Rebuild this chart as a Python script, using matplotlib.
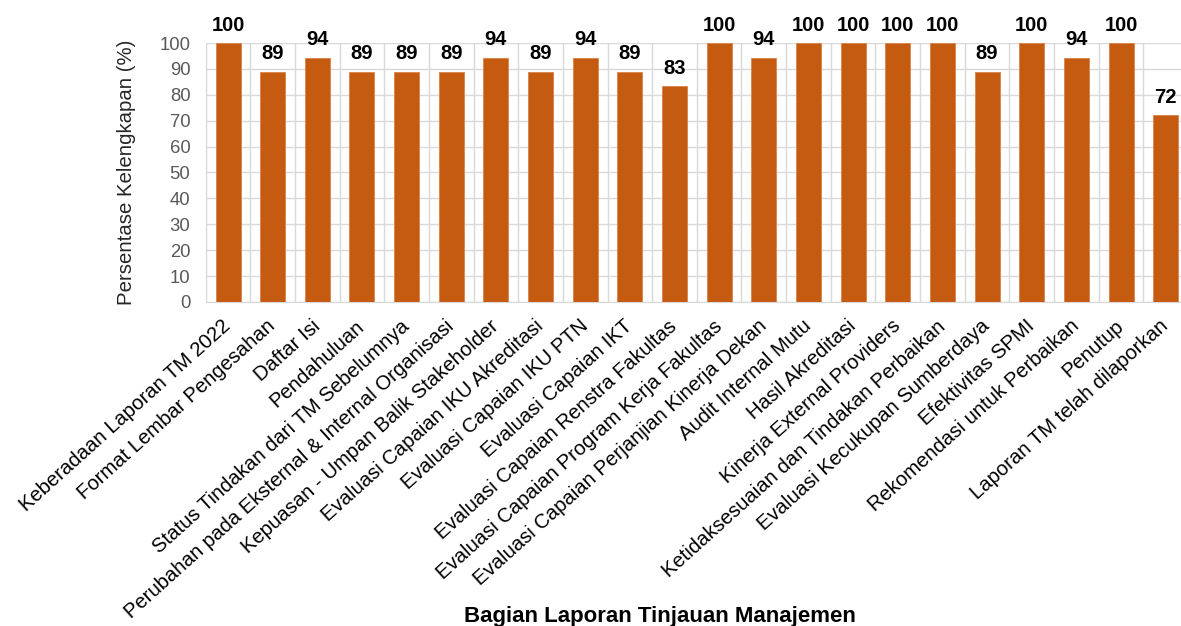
import numpy as np
import matplotlib
matplotlib.use("Agg")
import matplotlib.pyplot as plt

plt.rcParams['font.family'] = ['Liberation Sans', 'DejaVu Sans']

# data
kategori = [
    "Keberadaan Laporan TM 2022",
    "Format Lembar Pengesahan",
    "Daftar Isi",
    "Pendahuluan",
    "Status Tindakan dari TM Sebelumnya",
    "Perubahan pada Eksternal & Internal Organisasi",
    "Kepuasan - Umpan Balik Stakeholder",
    "Evaluasi Capaian IKU Akreditasi",
    "Evaluasi Capaian IKU PTN",
    "Evaluasi Capaian IKT",
    "Evaluasi Capaian Renstra Fakultas",
    "Evaluasi Capaian Program Kerja Fakultas",
    "Evaluasi Capaian Perjanjian Kinerja Dekan",
    "Audit Internal Mutu",
    "Hasil Akreditasi",
    "Kinerja External Providers",
    "Ketidaksesuaian dan Tindakan Perbaikan",
    "Evaluasi Kecukupan Sumberdaya",
    "Efektivitas SPMI",
    "Rekomendasi untuk Perbaikan",
    "Penutup",
    "Laporan TM telah dilaporkan",
]
persen = [100, 88.9, 94.4, 88.9, 88.9, 88.9, 94.4, 88.9, 94.4, 88.9, 83.3,
          100, 94.4, 100, 100, 100, 100, 88.9, 100, 94.4, 100, 72.2]
y_ticks = list(range(0, 101, 10))

W, H = 1181, 626
fig = plt.figure(figsize=(W / 100, H / 100), dpi=100)
ax_w = 1188 - 205.7
ax = fig.add_axes([205.7 / W, 1 - 302 / H, ax_w / W, (302 - 43) / H])

x = np.arange(len(kategori))
bars = ax.bar(x, persen, width=0.56, color='#C55A11', edgecolor='#D9834A',
              linewidth=0.6, zorder=3)

# label nilai di atas batang
for b, v in zip(bars, persen):
    ax.annotate(f"{v:.0f}", (b.get_x() + b.get_width() / 2, v),
                xytext=(0, 6), textcoords='offset points',
                ha='center', va='bottom', fontsize=14.5, fontweight='bold',
                color='black', annotation_clip=False)

ax.set_xlim(-0.5, len(kategori) - 0.5)
ax.set_ylim(0, 100)
ax.set_yticks(y_ticks)
ax.set_xticks(x)
ax.set_xticks(np.arange(-0.5, len(kategori), 1), minor=True)
ax.set_xticklabels(kategori, rotation=42, ha='right', va='center',
                   rotation_mode='anchor', fontsize=14.6, color='black')
ax.tick_params(axis='x', which='both', length=0, pad=15.5)
ax.tick_params(axis='y', length=0, pad=11, labelsize=13.3, labelcolor='#595959')

ax.grid(axis='y', color='#D9D9D9', linewidth=1, zorder=0)
ax.grid(axis='x', which='minor', color='#D9D9D9', linewidth=1, zorder=0)
ax.grid(axis='x', which='major', visible=False)
for s in ['top', 'right']:
    ax.spines[s].set_visible(False)
ax.spines['left'].set_color('#D9D9D9')
ax.spines['bottom'].set_color('#D9D9D9')

ax.set_ylabel('Persentase Kelengkapan (%)', fontsize=14.7, color='#262626')
ax.yaxis.set_label_coords(-(205.7 - 136) / ax_w, 0.5)

fig.text(660 / W, 1 - 622 / H, 'Bagian Laporan Tinjauan Manajemen',
         ha='center', va='baseline', fontsize=16, fontweight='bold', color='black')

fig.savefig('out.png', dpi=100)
